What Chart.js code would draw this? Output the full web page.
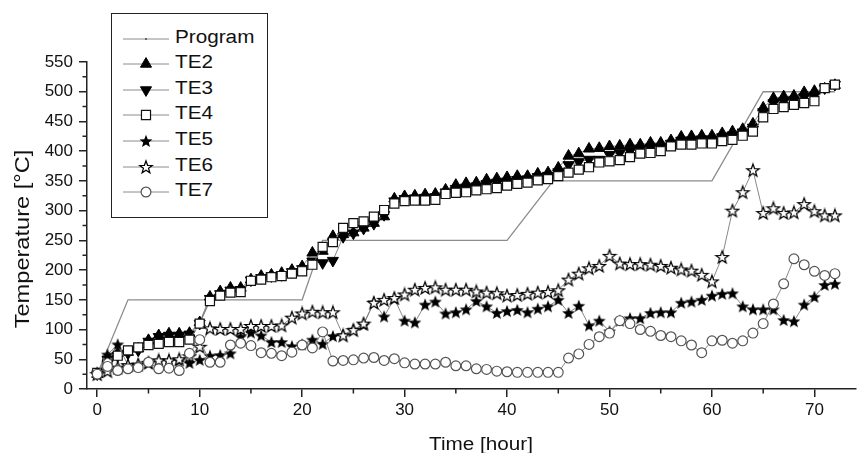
<!DOCTYPE html>
<html><head><meta charset="utf-8">
<script src="https://cdn.jsdelivr.net/npm/chart.js@4/dist/chart.umd.min.js"></script>
<style>
html,body{margin:0;padding:0;background:#fff;}
#wrap{position:relative;width:863px;height:453px;overflow:hidden;}
#legend{position:absolute;left:111px;top:13px;width:157px;height:205px;border:1.5px solid #222;box-sizing:border-box;background:#fff;}
#legend canvas{position:absolute;}
.txt{position:absolute;font-family:"Liberation Sans",Arial,sans-serif;color:#111;white-space:nowrap;}
.ltext{font-size:18px;line-height:20px;transform:scaleX(1.15);transform-origin:0 50%;}
#xtitle{font-size:18px;line-height:20px;left:380.5px;width:200px;text-align:center;top:433.7px;transform:scaleX(1.15);}
#ytitle{font-size:20px;line-height:24px;width:300px;text-align:center;left:-128px;top:227px;transform:rotate(-90deg) scaleX(1.18);}
</style></head><body>
<div id="wrap"><canvas id="c" width="863" height="453"></canvas><div id="legend"></div>
<div id="xtitle" class="txt"></div><div id="ytitle" class="txt"></div></div>
<script>
const hours = [0,1,2,3,4,5,6,7,8,9,10,11,12,13,14,15,16,17,18,19,20,21,22,23,24,25,26,27,28,29,30,31,32,33,34,35,36,37,38,39,40,41,42,43,44,45,46,47,48,49,50,51,52,53,54,55,56,57,58,59,60,61,62,63,64,65,66,67,68,69,70,71,72];
const programHours = [0,3,20,22,40,44.5,60,65,72];
const programTemps = [25,150,150,250,250,350,350,500,500];
const te2 = [25,52,60,62,68,82,90,93,93,94,112,155,164,170,170,184,190,192,195,200,206,229,232,257,260,263,271,279,290,320,324,325,327,328,335,343,346,347,352,354,356,358,358,362,364,372,392,396,404,405,408,409,411,411,414,414,418,424,425,426,426,430,433,437,446,473,489,492,493,499,501,505,511];
const te3 = [25,50,56,60,65,80,88,90,90,92,110,152,160,166,167,183,187,190,192,197,202,215,212,216,256,262,270,278,293,316,320,321,322,323,331,337,339,341,345,347,349,352,353,357,359,365,377,382,386,386,394,397,400,404,406,407,413,418,418,420,420,424,427,432,440,466,481,484,486,491,493,506,512];
const te4 = [27,46,56,65,70,74,76,79,79,83,110,148,157,162,163,182,184,188,190,194,198,209,239,247,271,279,282,290,301,312,316,317,317,318,328,330,331,334,336,338,342,345,347,351,353,358,364,369,373,381,383,385,390,396,397,400,408,411,411,413,413,417,419,426,433,457,471,474,478,481,484,506,512];
const te5 = [25,58,75,40,41,44,48,48,48,44,49,56,57,60,88,95,90,79,79,72,75,83,76,89,91,100,108,146,122,152,115,112,142,147,127,129,134,148,139,128,131,133,129,135,139,150,128,140,107,115,97,115,119,119,128,129,129,145,147,150,157,160,161,139,134,134,134,116,114,142,155,175,177];
const te6 = [25,30,36,40,41,44,48,48,50,55,71,102,101,101,101,106,106,106,107,120,127,130,129,129,90,99,110,145,150,153,159,167,170,171,167,167,167,164,162,161,157,158,160,162,163,166,184,194,203,207,224,211,210,210,209,207,204,201,199,192,181,222,300,331,368,296,304,296,297,311,299,292,292];
const te7 = [25,38,31,34,36,45,34,35,31,60,83,45,45,74,77,73,61,60,56,62,74,69,96,47,48,49,52,53,48,51,44,42,42,42,45,39,39,34,33,30,29,28,28,28,28,28,52,59,75,88,94,115,110,100,97,90,88,81,74,61,81,82,77,81,94,110,143,177,219,209,198,191,194];
const seriesNames = ['Program','TE2','TE3','TE4','TE5','TE6','TE7'];
const xTitle = 'Time [hour]';
const yTitle = 'Temperature [°C]';
const xMajorTicks = [0,10,20,30,40,50,60,70];
const xMinorTicks = [5,15,25,35,45,55,65];
const yMajorTicks = [0,50,100,150,200,250,300,350,400,450,500,550];
const yMinorTicks = [25,75,125,175,225,275,325,375,425,475,525];

const FONT = '"Liberation Sans", Arial, sans-serif';

function starPath(g, cx, cy, R, r) {
  g.beginPath();
  for (let i = 0; i < 10; i++) {
    const a = -Math.PI / 2 + i * Math.PI / 5;
    const rr = i % 2 === 0 ? R : r;
    g.lineTo(cx + rr * Math.cos(a), cy + rr * Math.sin(a));
  }
  g.closePath();
}
function makeStar(filled) {
  const c = document.createElement('canvas');
  c.width = 16; c.height = 16;
  const g = c.getContext('2d');
  starPath(g, 8, 8.5, filled ? 6.8 : 6.6, filled ? 2.9 : 2.7);
  if (filled) { g.fillStyle = '#000'; g.fill(); }
  else { g.fillStyle = '#fff'; g.fill(); g.lineWidth = 1.25; g.strokeStyle = '#000'; g.stroke(); }
  return c;
}
const starFilled = makeStar(true);
const starOpen = makeStar(false);

const pts = arr => hours.map((h, i) => ({x: h, y: arr[i]}));
const LINE = '#7a7a7a';

const styles = [
  {pointStyle: 'circle', radius: 0, bg: '#888', border: '#888', bw: 0, rot: 0},
  {pointStyle: 'triangle', radius: 6.4, bg: '#000', border: '#000', bw: 1, rot: 0},
  {pointStyle: 'triangle', radius: 6.4, bg: '#000', border: '#000', bw: 1, rot: 180},
  {pointStyle: 'rect', radius: 6.4, bg: '#fff', border: '#111', bw: 1.2, rot: 0},
  {pointStyle: starFilled, radius: 6, bg: '#000', border: '#000', bw: 0, rot: 0},
  {pointStyle: starOpen, radius: 6, bg: '#fff', border: '#111', bw: 0, rot: 0},
  {pointStyle: 'circle', radius: 4.9, bg: '#fff', border: '#555', bw: 1.2, rot: 0}
];
const seriesData = [null, te2, te3, te4, te5, te6, te7];

const datasets = seriesNames.map((name, i) => {
  const s = styles[i];
  if (i === 0) {
    return {label: name, data: programHours.map((h, k) => ({x: h, y: programTemps[k]})),
      borderColor: '#8c8c8c', borderWidth: 1.3, pointRadius: 0, order: 7, tension: 0};
  }
  return {label: name, data: pts(seriesData[i]), borderColor: LINE, borderWidth: 0.9,
    pointStyle: s.pointStyle, pointRadius: s.radius, pointRotation: s.rot,
    pointBackgroundColor: s.bg, pointBorderColor: s.border, pointBorderWidth: s.bw,
    order: 7 - i, tension: 0};
});

const minorTicks = {
  id: 'minorTicks',
  afterDraw(chart) {
    const {ctx, scales: {x, y}} = chart;
    ctx.save();
    ctx.strokeStyle = '#222'; ctx.lineWidth = 1.5;
    ctx.beginPath();
    xMinorTicks.forEach(v => { const p = x.getPixelForValue(v); ctx.moveTo(p, x.top); ctx.lineTo(p, x.top + 4.5); });
    yMinorTicks.forEach(v => { const p = y.getPixelForValue(v); ctx.moveTo(y.right, p); ctx.lineTo(y.right - 4.5, p); });
    ctx.stroke();
    ctx.restore();
  }
};

new Chart(document.getElementById('c'), {
  type: 'line',
  data: {datasets},
  plugins: [minorTicks],
  options: {
    responsive: false, animation: false,
    layout: {padding: {top: 62, right: 0, left: 0, bottom: 0}},
    plugins: {legend: {display: false}, tooltip: {enabled: false}},
    scales: {
      x: {
        type: 'linear', min: -1, max: 74,
        afterBuildTicks: s => { s.ticks = xMajorTicks.map(v => ({value: v})); },
        afterFit: s => { s.height = 64; },
        ticks: {font: {size: 17, family: FONT}, color: '#111', padding: 3, maxRotation: 0, autoSkip: false},
        grid: {drawOnChartArea: false, drawTicks: true, tickLength: 8, color: '#222', lineWidth: 1.5},
        border: {display: true, color: '#222', width: 1.5},
        title: {display: false}
      },
      y: {
        type: 'linear', min: 0, max: 550,
        afterBuildTicks: s => { s.ticks = yMajorTicks.map(v => ({value: v})); },
        afterFit: s => { s.width = 87; },
        ticks: {font: {size: 17, family: FONT}, color: '#111', padding: 6, autoSkip: false},
        grid: {drawOnChartArea: false, drawTicks: true, tickLength: 8, color: '#222', lineWidth: 1.5},
        border: {display: true, color: '#222', width: 1.5},
        title: {display: false}
      }
    }
  }
});

document.getElementById('xtitle').textContent = xTitle;
document.getElementById('ytitle').textContent = yTitle;

// HTML legend built from the dataset names and styles
const legend = document.getElementById('legend');
seriesNames.forEach((name, i) => {
  const rowY = 39 + 25.6 * i - 13;
  const c = document.createElement('canvas');
  c.width = 48; c.height = 20;
  c.style.left = '11px'; c.style.top = (rowY - 10 - 1.5) + 'px';
  const g = c.getContext('2d');
  g.strokeStyle = '#8c8c8c'; g.lineWidth = 1;
  g.beginPath(); g.moveTo(0, 10); g.lineTo(46, 10); g.stroke();
  const s = styles[i];
  if (i === 0) {
    g.fillStyle = '#666'; g.fillRect(22, 9, 2, 2);
  } else {
    g.fillStyle = s.bg; g.strokeStyle = s.border; g.lineWidth = s.bw;
    Chart.helpers.drawPoint(g, {pointStyle: s.pointStyle, rotation: s.rot, radius: s.radius, borderWidth: s.bw}, 23, 10);
  }
  legend.appendChild(c);
  const t = document.createElement('span');
  t.className = 'txt ltext';
  t.textContent = name;
  t.style.left = (175.7 - 111 - 1.5) + 'px';
  t.style.top = (rowY + 4.3 - 16.3 - 1.5) + 'px';
  legend.appendChild(t);
});
</script>
</body></html>
